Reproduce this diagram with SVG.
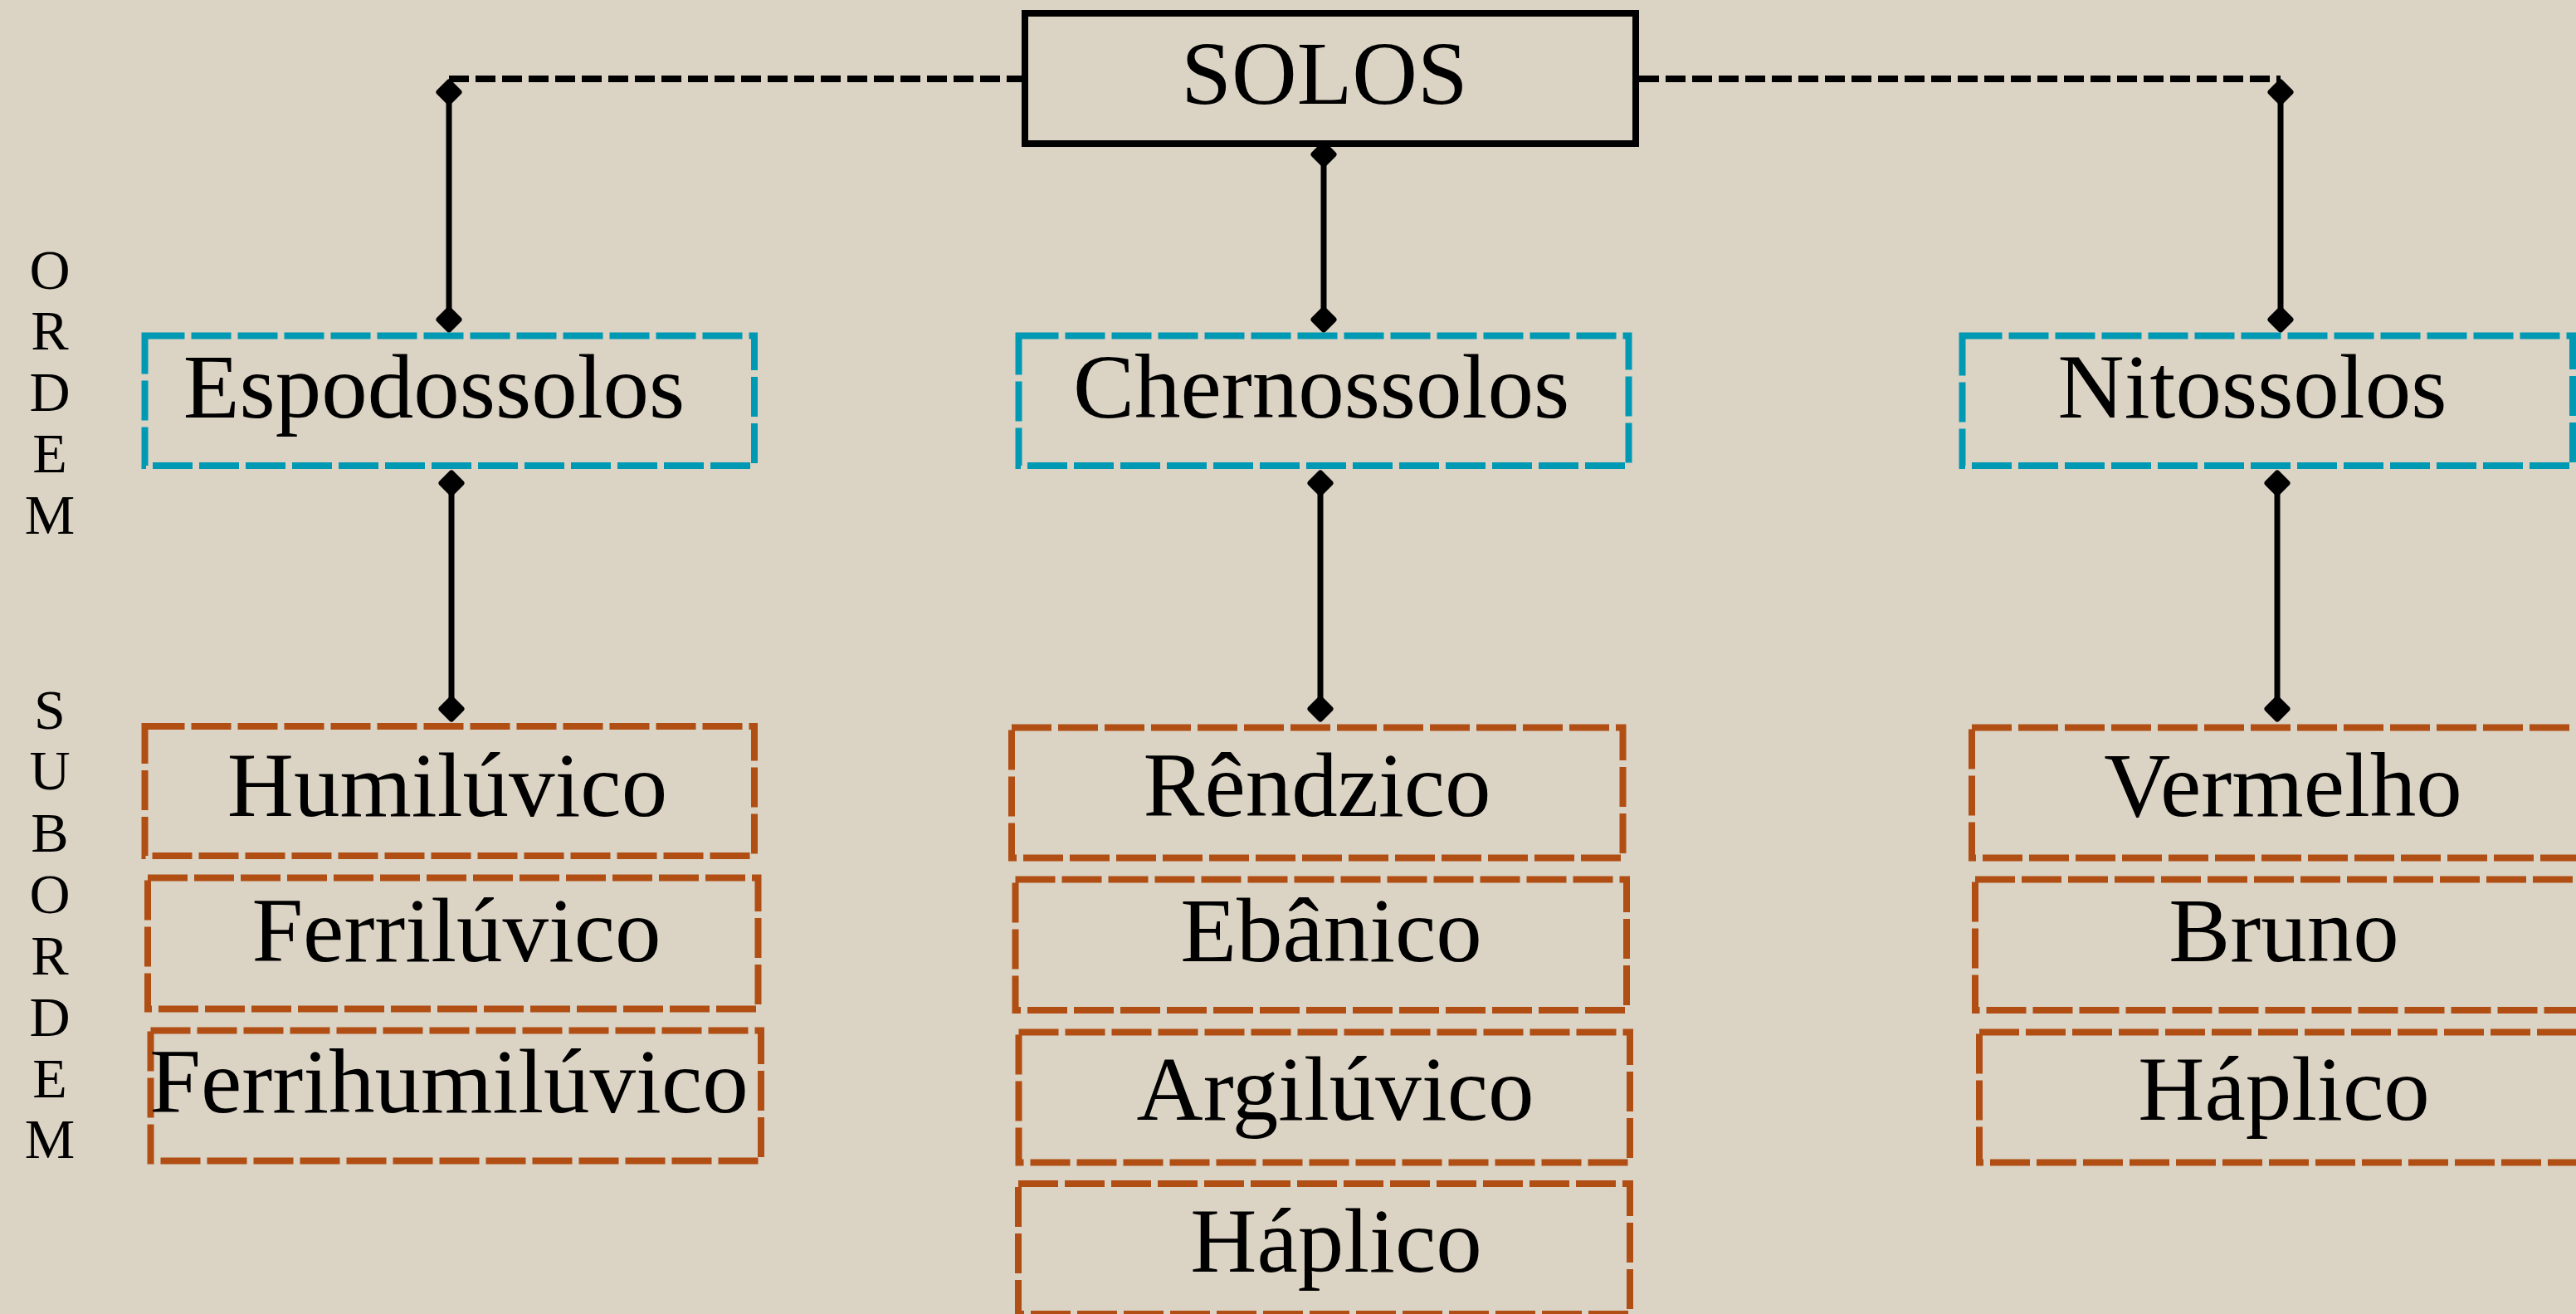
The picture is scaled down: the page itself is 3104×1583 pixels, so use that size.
<svg xmlns="http://www.w3.org/2000/svg" width="3104" height="1583" viewBox="0 0 3104 1583">
<style>
.t{font-family:"Liberation Serif","Times New Roman",serif;fill:#000;text-anchor:middle}
.lbl{font-size:111px}
.side{font-size:68px}
.ord{fill:none;stroke:#0099B3;stroke-width:8;stroke-dasharray:48 8}
.sub{fill:none;stroke:#B04E13;stroke-width:8;stroke-dasharray:48 8}
.root{fill:none;stroke:#000;stroke-width:8}
.dash{stroke:#000;stroke-width:8;stroke-dasharray:24 8;fill:none}
.solid{stroke:#000;stroke-width:7;fill:none}
</style>
<defs>
<path id="dm" d="M0,-12 L12,0 L0,12 L-12,0Z" fill="#000" stroke="#000" stroke-width="7" stroke-linejoin="round"/>
</defs>
<rect x="0" y="0" width="3104" height="1583" fill="#DBD3C4"/>

<g id="connectors">
<path class="dash" d="M541,95 H1231"/>
<path class="dash" d="M1975,95 H2748"/>
<path class="solid" d="M541,111 V385"/>
<path class="solid" d="M1595,185 V385"/>
<path class="solid" d="M2748,111 V385"/>
<path class="solid" d="M544,582 V854"/>
<path class="solid" d="M1591,582 V854"/>
<path class="solid" d="M2744,582 V854"/>
<use href="#dm" x="541" y="111"/>
<use href="#dm" x="541" y="385"/>
<use href="#dm" x="1595" y="186"/>
<use href="#dm" x="1595" y="385"/>
<use href="#dm" x="2748" y="111"/>
<use href="#dm" x="2748" y="385"/>
<use href="#dm" x="544" y="582"/>
<use href="#dm" x="544" y="854"/>
<use href="#dm" x="1591" y="582"/>
<use href="#dm" x="1591" y="854"/>
<use href="#dm" x="2744" y="582"/>
<use href="#dm" x="2744" y="854"/>
</g>

<g id="label-ordem">
<text class="t side" x="60" y="348">O</text>
<text class="t side" x="60" y="421">R</text>
<text class="t side" x="60" y="495">D</text>
<text class="t side" x="60" y="569">E</text>
<text class="t side" x="60" y="643">M</text>
</g>
<g id="label-subordem">
<text class="t side" x="60" y="878">S</text>
<text class="t side" x="60" y="951">U</text>
<text class="t side" x="60" y="1026">B</text>
<text class="t side" x="60" y="1100">O</text>
<text class="t side" x="60" y="1174">R</text>
<text class="t side" x="60" y="1248">D</text>
<text class="t side" x="60" y="1322">E</text>
<text class="t side" x="60" y="1395">M</text>
</g>

<g id="solos">
<rect class="root" x="1235" y="16" width="736" height="157"/>
<text class="t" style="font-size:109px" x="1596" y="125">SOLOS</text>
</g>

<g id="espodossolos">
<rect class="ord" x="174.5" y="404.5" width="734.5" height="156.5"/>
<text class="t lbl" x="523" y="503">Espodossolos</text>
</g>
<g id="chernossolos">
<rect class="ord" x="1227.5" y="404.5" width="735" height="156.5"/>
<text class="t lbl" x="1592" y="503">Chernossolos</text>
</g>
<g id="nitossolos">
<rect class="ord" x="2364.5" y="404.5" width="735.5" height="156.5"/>
<text class="t lbl" x="2714" y="503">Nitossolos</text>
</g>

<g id="humiluvico">
<rect class="sub" x="174.5" y="875" width="734.5" height="156"/>
<text class="t lbl" x="539" y="983">Humilúvico</text>
</g>
<g id="ferriluvico">
<rect class="sub" x="178" y="1057.5" width="735.5" height="158"/>
<text class="t lbl" x="550" y="1158">Ferrilúvico</text>
</g>
<g id="ferrihumiluvico">
<rect class="sub" x="181.5" y="1241.5" width="735.5" height="157"/>
<text class="t lbl" x="541" y="1340">Ferrihumilúvico</text>
</g>

<g id="rendzico">
<rect class="sub" x="1219" y="876.5" width="736.5" height="157"/>
<text class="t lbl" x="1587" y="983">Rêndzico</text>
</g>
<g id="ebanico">
<rect class="sub" x="1223.5" y="1059.5" width="736.5" height="157.5"/>
<text class="t lbl" x="1604" y="1158">Ebânico</text>
</g>
<g id="argiluvico">
<rect class="sub" x="1227.5" y="1243.5" width="736.5" height="157"/>
<text class="t lbl" x="1609" y="1349">Argilúvico</text>
</g>
<g id="haplico-chernossolo">
<rect class="sub" x="1227" y="1426" width="737" height="157"/>
<text class="t lbl" x="1610" y="1532">Háplico</text>
</g>

<g id="vermelho">
<rect class="sub" x="2376" y="876.5" width="736" height="157"/>
<text class="t lbl" x="2751" y="983">Vermelho</text>
</g>
<g id="bruno">
<rect class="sub" x="2380" y="1059.5" width="736" height="157.5"/>
<text class="t lbl" x="2752" y="1158">Bruno</text>
</g>
<g id="haplico-nitossolo">
<rect class="sub" x="2385" y="1243.5" width="736" height="157"/>
<text class="t lbl" x="2752" y="1349">Háplico</text>
</g>
</svg>
